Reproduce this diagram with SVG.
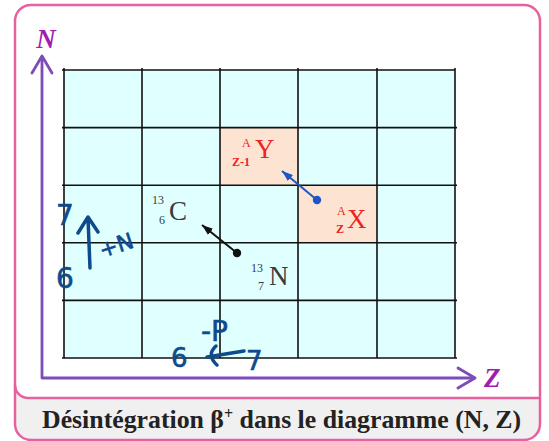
<svg xmlns="http://www.w3.org/2000/svg" width="549" height="441" viewBox="0 0 549 441">
<style>
.frame{fill:none;stroke:#e6619f;stroke-width:2.5}
.grid line{stroke:#111;stroke-width:1.6}
.axis{fill:none;stroke:#7d4cb8;stroke-width:2.8;stroke-linecap:round;stroke-linejoin:round}
.axlbl{font-family:"Liberation Serif",serif;font-style:italic;font-weight:bold;font-size:27px;fill:#a21caf}
.nucR{font-family:"Liberation Serif",serif;fill:#ee2222}
.nucK{font-family:"Liberation Serif",serif;fill:#3a3a3a}
.big{font-size:27px}
.sm{font-size:12px}
.smb{font-size:12px;font-weight:bold}
.ink{font-family:"DejaVu Sans",sans-serif;fill:#0d4b8c;stroke:#0d4b8c;stroke-width:0.6}
.inkl{fill:none;stroke:#0d4b8c;stroke-width:3.5;stroke-linecap:round;stroke-linejoin:round}
.cap{font-family:"Liberation Serif",serif;font-weight:bold;font-size:25.8px;fill:#222}
</style>
<defs>
<marker id="hb" markerUnits="userSpaceOnUse" markerWidth="11" markerHeight="8" refX="11" refY="4" orient="auto"><path d="M0,0 L11,4 L0,8 z" fill="#1f55c4"/></marker>
<marker id="hk" markerUnits="userSpaceOnUse" markerWidth="11" markerHeight="8" refX="11" refY="4" orient="auto"><path d="M0,0 L11,4 L0,8 z" fill="#111"/></marker>
</defs>
<g id="frame">
<rect x="15" y="5" width="525" height="435" rx="16" fill="#f0f0f0"/>
<path d="M31,5 H524 A16,16 0 0 1 540,21 V398 H28 A13,13 0 0 1 15,385 V21 A16,16 0 0 1 31,5 Z" fill="#fff"/>
<path class="frame" d="M540,398 H28 A13,13 0 0 1 15,385"/>
<rect class="frame" x="15" y="5" width="525" height="435" rx="16"/>
</g>
<g id="grid" class="grid">
<rect x="64" y="70" width="391" height="288" fill="#e0ffff"/>
<rect x="220" y="127.6" width="78" height="57.6" fill="#fde3d2"/>
<rect x="298" y="185.2" width="79" height="57.6" fill="#fde3d2"/>
<line x1="64" y1="68" x2="64" y2="358"/>
<line x1="142" y1="68" x2="142" y2="358"/>
<line x1="220" y1="68" x2="220" y2="358"/>
<line x1="298" y1="68" x2="298" y2="358"/>
<line x1="377" y1="68" x2="377" y2="358"/>
<line x1="455" y1="68" x2="455" y2="358"/>
<line x1="62" y1="70" x2="455" y2="70"/>
<line x1="62" y1="127.6" x2="457" y2="127.6"/>
<line x1="62" y1="185.2" x2="457" y2="185.2"/>
<line x1="62" y1="242.8" x2="457" y2="242.8"/>
<line x1="62" y1="300.4" x2="457" y2="300.4"/>
<line x1="62" y1="358" x2="457" y2="358"/>
</g>
<g id="axes">
<path class="axis" d="M42,378 V57 M42,378 H474"/>
<path class="axis" d="M32,73 L42,56 L52,73 M458,368 L475,378 L458,388"/>
<text class="axlbl" x="46" y="48" text-anchor="middle">N</text>
<text class="axlbl" x="484" y="387">Z</text>
</g>
<g id="node-Y" class="nucR">
<text class="sm" x="242" y="147">A</text>
<text class="smb" x="232" y="166">Z-1</text>
<text class="big" x="255" y="158">Y</text>
</g>
<g id="node-X" class="nucR">
<text class="sm" x="337" y="215">A</text>
<text class="smb" x="336" y="233">Z</text>
<text class="big" x="347" y="228">X</text>
</g>
<g id="node-C13" class="nucK">
<text class="sm" x="152" y="204">13</text>
<text class="sm" x="159" y="224">6</text>
<text class="big" x="169" y="220">C</text>
</g>
<g id="node-N13" class="nucK">
<text class="sm" x="251" y="272">13</text>
<text class="sm" x="258" y="290">7</text>
<text class="big" x="269" y="285">N</text>
</g>
<g id="connectors">
<line x1="317" y1="200" x2="282" y2="171" stroke="#1f55c4" stroke-width="2" marker-end="url(#hb)"/>
<circle cx="317" cy="200" r="4.2" fill="#1f55c4"/>
<line x1="237" y1="253" x2="202" y2="225" stroke="#111" stroke-width="2" marker-end="url(#hk)"/>
<circle cx="237" cy="253" r="4.2" fill="#111"/>
</g>
<g id="annotations">
<text class="ink" x="56" y="225" font-size="28">7</text>
<path class="inkl" d="M90,268 L88,218 M78,233 L88,217 L98,232"/>
<text class="ink" x="102" y="258" font-size="22" transform="rotate(-18 102 258)">+N</text>
<text class="ink" x="56" y="288" font-size="28">6</text>
<text class="ink" x="201" y="341" font-size="28">-P</text>
<text class="ink" x="171" y="367" font-size="26">6</text>
<path class="inkl" d="M244,351 L207,357 M216,346 Q206,355 217,365"/>
<text class="ink" x="246" y="370" font-size="26">7</text>
</g>
<g id="caption">
<text class="cap" x="42" y="428">Désintégration β<tspan font-size="16" dy="-9">+</tspan><tspan dy="9"> dans le diagramme (N, Z)</tspan></text>
</g>
</svg>
